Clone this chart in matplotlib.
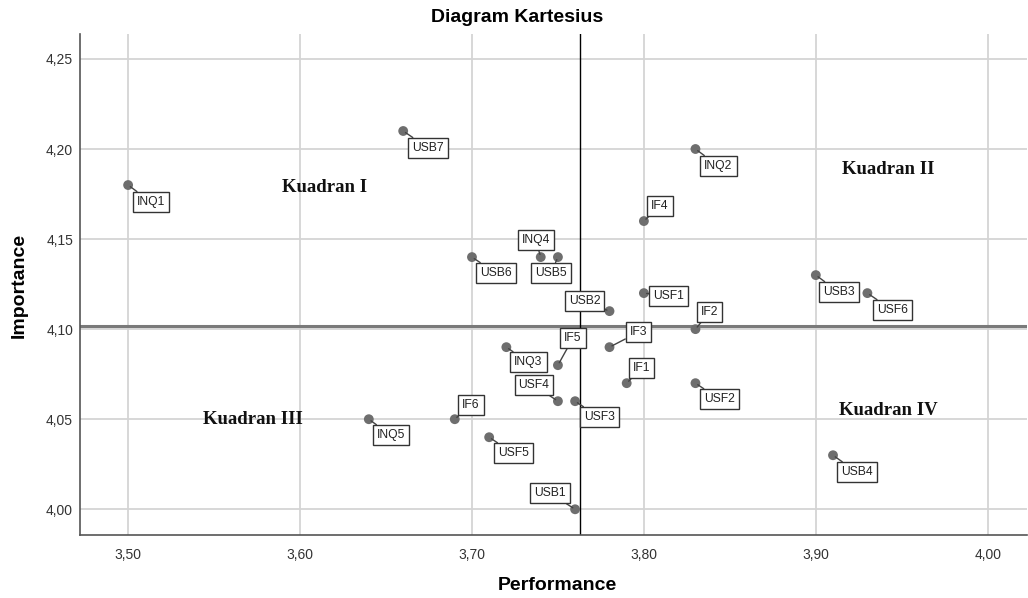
import matplotlib.pyplot as plt
import numpy as np

plt.rcParams['font.family'] = ['Liberation Sans', 'DejaVu Sans']

# attribute codes and scores
codes = ['INQ1', 'USB7', 'INQ2', 'IF4', 'INQ4', 'USB5', 'USB6', 'USB3',
         'USF6', 'USF1', 'USB2', 'IF2', 'IF3', 'INQ3', 'IF5', 'IF1',
         'USF2', 'USF4', 'USF3', 'IF6', 'INQ5', 'USF5', 'USB4', 'USB1']
performance = [3.50, 3.66, 3.83, 3.80, 3.74, 3.75, 3.70, 3.90,
               3.93, 3.80, 3.78, 3.83, 3.78, 3.72, 3.75, 3.79,
               3.83, 3.75, 3.76, 3.69, 3.64, 3.71, 3.91, 3.76]
importance = [4.18, 4.21, 4.20, 4.16, 4.14, 4.14, 4.14, 4.13,
              4.12, 4.12, 4.11, 4.10, 4.09, 4.09, 4.08, 4.07,
              4.07, 4.06, 4.06, 4.05, 4.05, 4.04, 4.03, 4.00]

# label box offsets in pixels (dx, dy up)
label_offsets = {
    'INQ1': (23, -17), 'USB7': (25, -17), 'INQ2': (23, -17), 'IF4': (16, 15),
    'INQ4': (-5, 17), 'USB5': (-7, -16), 'USB6': (24, -16), 'USB3': (23, -17),
    'USF6': (25, -17), 'USF1': (25, -3), 'USB2': (-25, 10), 'IF2': (14, 17),
    'IF3': (29, 15), 'INQ3': (22, -15), 'IF5': (15, 27), 'IF1': (15, 15),
    'USF2': (24, -16), 'USF4': (-24, 16), 'USF3': (24, -16), 'IF6': (16, 14),
    'INQ5': (22, -16), 'USF5': (24, -16), 'USB4': (24, -17), 'USB1': (-25, 16),
}

x_ticks = [3.50, 3.60, 3.70, 3.80, 3.90, 4.00]
x_tick_labels = ['3,50', '3,60', '3,70', '3,80', '3,90', '4,00']
y_ticks = [4.00, 4.05, 4.10, 4.15, 4.20, 4.25]
y_tick_labels = ['4,00', '4,05', '4,10', '4,15', '4,20', '4,25']

quadrants = ['Kuadran I', 'Kuadran II', 'Kuadran III', 'Kuadran IV']
quadrant_x = [3.6145, 3.942, 3.5727, 3.942]
quadrant_y = [4.1787, 4.1886, 4.0498, 4.0548]

fig = plt.figure(figsize=(10.28, 5.98), dpi=100)
ax = fig.add_axes([0.0778, 0.105, 0.921, 0.838])

ax.set_xlim(3.472, 4.0227)
ax.set_ylim(3.9856, 4.2638)
ax.set_xticks(x_ticks)
ax.set_xticklabels(x_tick_labels)
ax.set_yticks(y_ticks)
ax.set_yticklabels(y_tick_labels)
ax.tick_params(length=0, labelsize=10, colors='#333333')
ax.tick_params(axis='x', pad=9)
ax.tick_params(axis='y', pad=5)
ax.grid(True, color='#d4d4d4', lw=1.3, zorder=0)
ax.set_axisbelow(True)

for side in ['top', 'right']:
    ax.spines[side].set_visible(False)
for side in ['left', 'bottom']:
    ax.spines[side].set_color('#555555')
    ax.spines[side].set_linewidth(1.2)

# mean lines
ax.axhline(np.mean(importance), color='#7a7a7a', lw=2.2, zorder=1)
ax.axvline(np.mean(performance), color='black', lw=1.0, zorder=1)

ax.scatter(performance, importance, s=50, color='#6e6e6e', zorder=3,
           edgecolors='none')

for c, x, y in zip(codes, performance, importance):
    dx, dy = label_offsets[c]
    ax.annotate(c, (x, y), xytext=(dx, dy), textcoords='offset pixels',
                ha='center', va='center', fontsize=8.7, color='#222222',
                bbox=dict(boxstyle='square,pad=0.33', fc='white',
                          ec='#333333', lw=1.0),
                arrowprops=dict(arrowstyle='-', color='#444444', lw=1.0,
                                shrinkA=0, shrinkB=2),
                zorder=4)

for q, x, y in zip(quadrants, quadrant_x, quadrant_y):
    ax.text(x, y, q, ha='center', va='center', fontsize=13.5,
            fontweight='bold', family='Liberation Serif', color='#111111')

fig.text(0.503, 1 - 18 / 598, 'Diagram Kartesius', ha='center', va='center',
         fontsize=14, fontweight='bold')
fig.text(557 / 1028, 1 - 586 / 598, 'Performance', ha='center', va='center',
         fontsize=14, fontweight='bold')
fig.text(19 / 1028, 1 - 285 / 598, 'Importance', ha='center', va='center',
         rotation=90, fontsize=14, fontweight='bold')

fig.savefig('out.png', dpi=100)
